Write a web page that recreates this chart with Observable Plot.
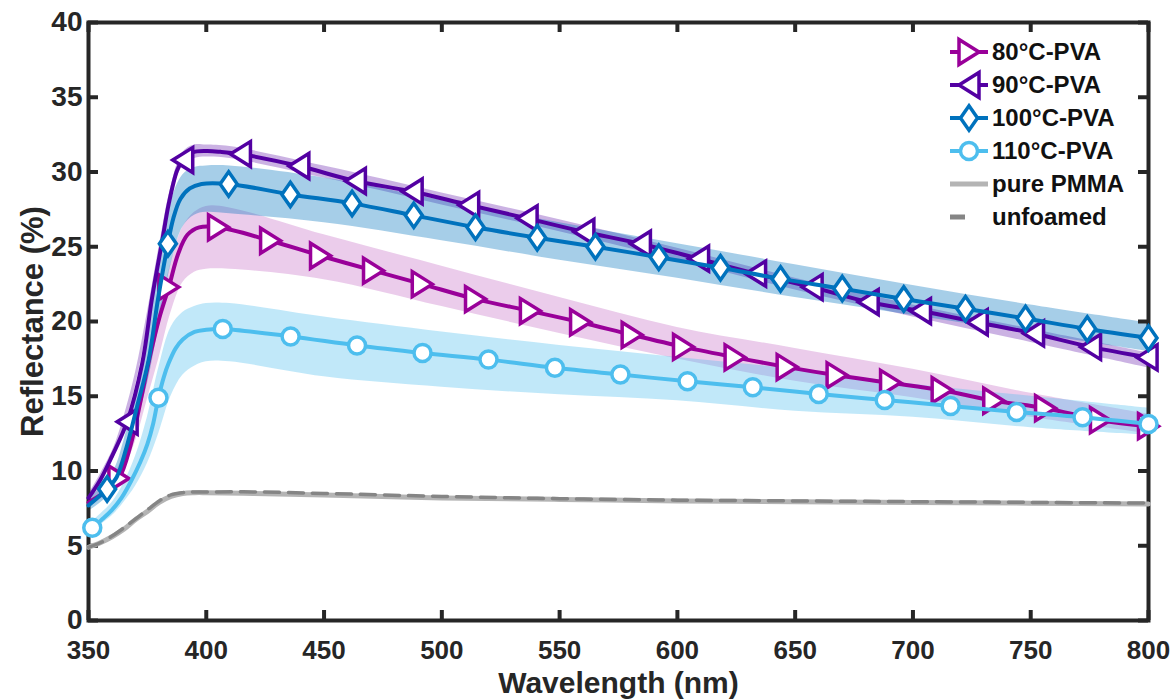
<!DOCTYPE html>
<html><head><meta charset="utf-8">
<script src="https://cdn.jsdelivr.net/npm/d3@7"></script>
<script src="https://cdn.jsdelivr.net/npm/@observablehq/plot@0.6"></script>
<style>
body{margin:0;background:#fff;}
#wrap{position:relative;width:1171px;height:700px;overflow:hidden;background:#fff;}
#wrap svg{display:block;}
#legend{position:absolute;left:0;top:0;pointer-events:none;}
</style></head><body><div id="wrap"></div>
<script>
// ---------- DATA ----------
const xTicks = [350,400,450,500,550,600,650,700,750,800];
const yTicks = [0,5,10,15,20,25,30,35,40];
const seriesNames = ["80°C-PVA","90°C-PVA","100°C-PVA","110°C-PVA"];
const seriesColors = ["#990099","#5300A2","#0072BD","#4DBEEE"];
const bandOpacity = [0.2,0.3,0.35,0.35];

// markers (wavelength, reflectance)
const m80x = [362.9,384.1,405.2,427.3,448.5,471,491.7,514.3,537.6,558.9,580.8,602.6,624.5,646.6,667.8,690.5,712.4,734.3,756.3,779.6,800];
const m80y = [9.5,22.3,26.3,25.4,24.4,23.4,22.5,21.5,20.7,19.95,19.1,18.3,17.6,16.95,16.4,15.9,15.4,14.7,14.2,13.4,13.0];
const m90x = [366.4,390,414.5,439.3,463.3,487.4,511.4,536.2,560.3,584.3,609,633.2,657.2,681,703.2,727.3,751.2,775.4,799.4];
const m90y = [13.3,30.8,31.2,30.4,29.4,28.7,27.8,26.9,26.0,25.2,24.2,23.2,22.3,21.3,20.7,19.95,19.2,18.3,17.6];
const m100x = [357.9,383.7,409.5,435.7,461.9,488.1,514.3,540.5,565.2,592.1,618.3,643.8,670,696.1,722.3,747.8,774,800];
const m100y = [8.8,25.2,29.2,28.5,27.9,27.1,26.3,25.6,25.0,24.3,23.6,22.85,22.2,21.5,20.85,20.2,19.5,18.9];
const m110x = [351.6,379.7,407,435.8,464,491.8,519.8,548,575.8,604.3,632,660,688,716,744,772,800];
const m110y = [6.2,14.9,19.5,19.0,18.4,17.9,17.45,16.9,16.45,16.0,15.6,15.15,14.75,14.35,13.95,13.6,13.15];

// extra curve points between markers (mostly the steep rise)
const e80x = [350,356,368,372,376,380,388,392,397];
const e80y = [7.9,8.5,11.8,14.6,17.6,20.2,24.5,25.8,26.3];
const e90x = [350,355,360,372.8,377,381.3,384.1,387.6,394,400,406];
const e90y = [8.2,9.4,11.0,17.2,21.6,25.4,27.9,30.1,31.3,31.4,31.35];
const e100x = [350,362,366,370.6,375.5,379.5,386,389,393,398];
const e100y = [7.7,9.6,11.5,14.3,17.4,21.5,26.9,28.2,28.9,29.2];
const e110x = [350,356,360,364,368,372,375,377.5,382,384,387,390,395,400];
const e110y = [6.1,6.8,7.4,8.2,9.3,10.6,11.8,13.2,16.3,17.2,18.2,18.8,19.3,19.45];

// shaded bands (lower / upper)
const bandX = [350,360,365,370,375,380,385,390,395,400,410,450,500,550,600,650,700,750,800];
const lo80  = [7.6,8.7,10.0,12.0,14.8,17.6,20.6,22.6,23.3,23.5,23.5,22.8,21.0,19.2,17.5,16.0,14.9,13.6,12.5];
const hi80  = [8.3,9.6,11.1,13.6,16.8,20.6,23.9,26.3,27.3,27.7,27.6,25.8,23.7,21.6,19.6,18.2,16.8,15.2,13.8];
const lo90  = [7.9,10.6,12.8,15.7,19.6,24.0,28.1,30.4,30.9,31.0,30.9,29.6,27.8,26.0,24.1,22.1,20.3,18.6,16.9];
const hi90  = [8.4,11.3,13.6,16.6,20.6,25.0,29.0,31.3,31.8,31.8,31.7,30.4,28.6,26.8,24.9,22.9,21.1,19.5,17.9];
const lo100 = [7.3,8.6,10.4,13.0,15.8,19.8,23.8,26.3,27.1,27.3,27.2,26.6,25.4,24.1,22.9,21.6,20.4,19.2,18.0];
const hi100 = [8.1,9.8,12.0,15.4,19.2,24.2,28.0,29.8,30.3,30.4,30.4,29.6,28.1,26.6,25.2,23.8,22.4,21.1,19.9];
const lo110 = [5.8,7.0,7.9,9.0,10.5,12.6,15.0,16.4,17.0,17.3,17.3,16.3,15.6,15.1,14.7,14.0,13.6,12.9,12.4];
const hi110 = [6.4,7.9,9.2,11.0,13.6,17.0,19.6,20.6,21.0,21.2,21.2,20.3,19.3,18.4,17.6,16.8,15.8,15.0,14.2];

// grey reference curves
const greyX = [350,355,360,365,370,375,380,385,390,395,400,420,450,500,550,600,650,700,750,800];
const pmmaY = [4.9,5.2,5.6,6.1,6.75,7.3,7.9,8.3,8.5,8.55,8.55,8.5,8.4,8.2,8.1,8.0,7.95,7.9,7.85,7.8];
const unfoamedY = [4.9,5.2,5.65,6.2,6.8,7.4,8.0,8.4,8.55,8.6,8.6,8.6,8.5,8.3,8.15,8.05,8.0,7.95,7.9,7.85];

// ---------- BUILD TABLES ----------
const markerX = [m80x,m90x,m100x,m110x], markerY = [m80y,m90y,m100y,m110y];
const extraX = [e80x,e90x,e100x,e110x], extraY = [e80y,e90y,e100y,e110y];
const bandLo = [lo80,lo90,lo100,lo110], bandHi = [hi80,hi90,hi100,hi110];

const lines = seriesNames.map((s,i) => {
  const pts = markerX[i].map((x,j)=>({x, y: markerY[i][j], s}))
    .concat(extraX[i].map((x,j)=>({x, y: extraY[i][j], s})));
  pts.sort((a,b)=>a.x-b.x);
  return pts;
});
const markers = seriesNames.map((s,i)=> markerX[i].map((x,j)=>({x, y: markerY[i][j], s})));
const bands = seriesNames.map((s,i)=> bandX.map((x,j)=>({x, lo: bandLo[i][j], hi: bandHi[i][j], s})));
const pmma = greyX.map((x,j)=>({x, y: pmmaY[j]}));
const unfoamed = greyX.map((x,j)=>({x, y: unfoamedY[j]}));

// ---------- SYMBOLS ----------
function rad(size){ return Math.sqrt(size/Math.PI); }
const triRight = {draw(c,size){const r=rad(size); c.moveTo(r,0); c.lineTo(-r,-1.25*r); c.lineTo(-r,1.25*r); c.closePath();}};
const triLeft  = {draw(c,size){const r=rad(size); c.moveTo(-r,0); c.lineTo(r,-1.25*r); c.lineTo(r,1.25*r); c.closePath();}};
const diamond  = {draw(c,size){const r=rad(size); c.moveTo(0,-1.22*r); c.lineTo(0.85*r,0); c.lineTo(0,1.22*r); c.lineTo(-0.85*r,0); c.closePath();}};
const circle   = {draw(c,size){const r=rad(size); c.moveTo(r,0); c.arc(0,0,r,0,2*Math.PI); c.closePath();}};
const symbols = [triRight, triLeft, diamond, circle];
const symbolR = [10, 10, 10, 8.5];

// ---------- PLOT ----------
const W=1171, H=700, mL=88, mR=23, mT=22, mB=80;
const innerW = W-mL-mR, innerH = H-mT-mB, tickLen = 10;
const axisColor = "#262626";
const font = "'Liberation Sans', Arial, Helvetica, sans-serif";

const marks = [];
// bands
bands.forEach((b,i)=> marks.push(Plot.areaY(b, {x:"x", y1:"lo", y2:"hi", fill: seriesColors[i], fillOpacity: bandOpacity[i], curve:"catmull-rom"})));
// frame & ticks (under data, like MATLAB's default layer)
marks.push(Plot.frame({stroke: axisColor, strokeWidth: 4}));
marks.push(Plot.tickX(xTicks, {x: d=>d, insetTop: innerH - tickLen, stroke: axisColor, strokeWidth: 4}));
marks.push(Plot.tickX(xTicks, {x: d=>d, insetBottom: innerH - tickLen, stroke: axisColor, strokeWidth: 4}));
marks.push(Plot.tickY(yTicks, {y: d=>d, insetRight: innerW - tickLen, stroke: axisColor, strokeWidth: 4}));
marks.push(Plot.tickY(yTicks, {y: d=>d, insetLeft: innerW - tickLen, stroke: axisColor, strokeWidth: 4}));
// grey curves
marks.push(Plot.line(pmma, {x:"x", y:"y", stroke:"#B4B4B4", strokeWidth:5, curve:"catmull-rom"}));
marks.push(Plot.line(unfoamed, {x:"x", y:"y", stroke:"#858585", strokeWidth:3.5, strokeDasharray:"15,9", curve:"catmull-rom"}));
// series
seriesNames.forEach((s,i)=>{
  marks.push(Plot.line(lines[i], {x:"x", y:"y", stroke: seriesColors[i], strokeWidth: 4, curve:"catmull-rom"}));
  marks.push(Plot.dot(markers[i], {x:"x", y:"y", symbol: symbols[i], r: symbolR[i], stroke: seriesColors[i], fill:"white", strokeWidth: 3.5}));
});
// axes
marks.push(Plot.axisX({ticks: xTicks, tickSize: 0, tickPadding: 20, fontSize: 26, fontWeight: "bold", fill: axisColor, label: null}));
marks.push(Plot.axisY({ticks: yTicks, tickSize: 0, tickPadding: 6, fontSize: 28, fontWeight: "bold", fill: axisColor, label: null}));
marks.push(Plot.text(["Wavelength (nm)"], {frameAnchor: "bottom", textAnchor: "middle", lineAnchor: "middle", dy: 62.5, fontSize: 30, fontWeight: "bold", fill: axisColor}));
marks.push(Plot.text(["Reflectance (%)"], {frameAnchor: "left", textAnchor: "middle", lineAnchor: "middle", dx: -55, rotate: -90, fontSize: 31, fontWeight: "bold", fill: axisColor}));

const chart = Plot.plot({
  width: W, height: H, marginLeft: mL, marginRight: mR, marginTop: mT, marginBottom: mB,
  x: {domain: [350, 800]}, y: {domain: [0, 40]},
  style: {fontFamily: font, background: "white", overflow: "visible"},
  marks
});
const wrap = document.getElementById("wrap");
wrap.appendChild(chart);

// ---------- LEGEND (overlay, top-right inside the axes) ----------
const legendItems = seriesNames.map((s,i)=>({label: s, color: seriesColors[i], symbol: symbols[i], r: symbolR[i], w: 4, dash: null}))
  .concat([{label:"pure PMMA", color:"#B4B4B4", symbol:null, w:5, dash:null},
           {label:"unfoamed", color:"#858585", symbol:null, w:5, dash:"15,23"}]);
const lg = d3.select(wrap).append("svg").attr("id","legend").attr("width",W).attr("height",H);
const lx0 = 950, lx1 = 988, ly0 = 52, lstep = 33;
legendItems.forEach((it,k)=>{
  const y = ly0 + k*lstep;
  const g = lg.append("g").attr("transform",`translate(0,${y})`);
  g.append("line").attr("x1",lx0).attr("x2",lx1).attr("y1",0).attr("y2",0)
    .attr("stroke",it.color).attr("stroke-width",it.w).attr("stroke-dasharray",it.dash);
  if (it.symbol){
    const p = d3.path(); it.symbol.draw(p, Math.PI*it.r*it.r);
    g.append("path").attr("d",p.toString()).attr("transform",`translate(${(lx0+lx1)/2},0)`)
      .attr("fill","white").attr("stroke",it.color).attr("stroke-width",3.5);
  }
  g.append("text").attr("x",lx1+4).attr("y",0).attr("dy","0.35em")
    .attr("font-family",font).attr("font-weight","bold").attr("font-size",24)
    .attr("fill","#111").text(it.label);
});
</script></body></html>
